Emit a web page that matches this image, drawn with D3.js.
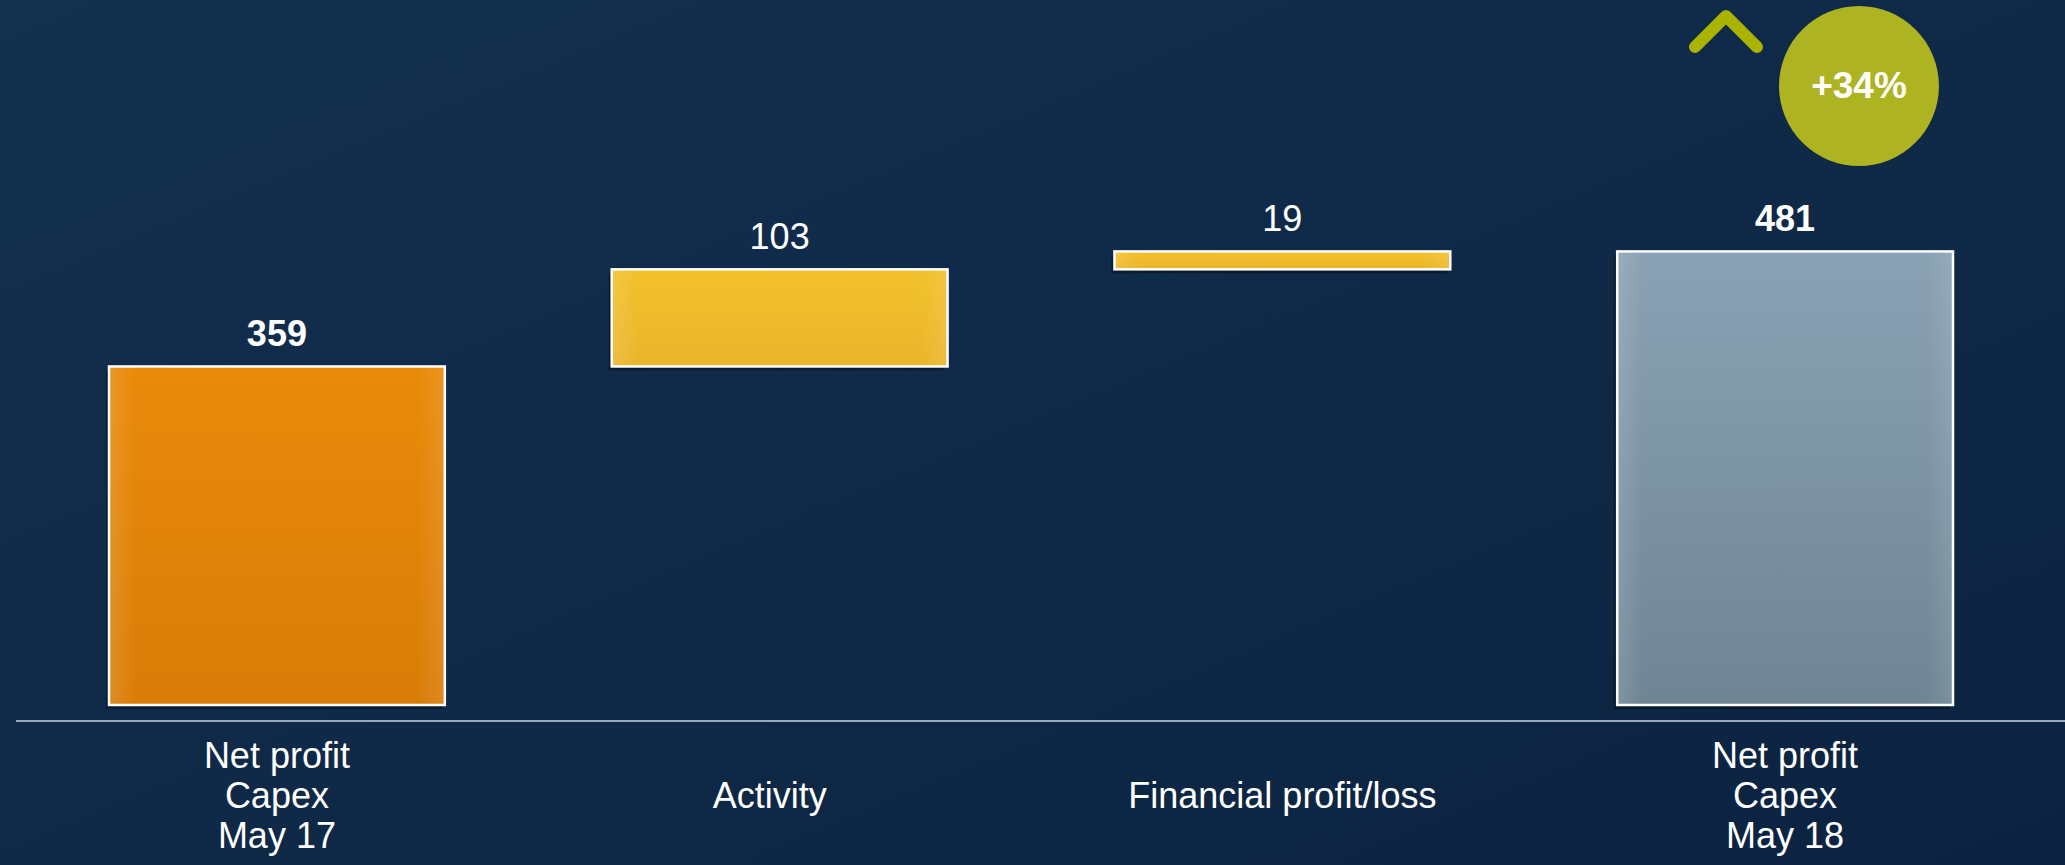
<!DOCTYPE html>
<html>
<head>
<meta charset="utf-8">
<script src="https://cdn.jsdelivr.net/npm/d3@7"></script>
<style>
  html, body { margin: 0; padding: 0; background: #0f2a4a; }
  svg { display: block; }
</style>
</head>
<body>
<div id="chart"></div>
<script>
// waterfall: net profit capex May 17 -> May 18
const categories = [['Net profit', 'Capex', 'May 17'], ['Activity'], ['Financial profit/loss'], ['Net profit', 'Capex', 'May 18']];
const values = [359, 103, 19, 481];
const kinds = ['total', 'delta', 'delta', 'total'];
const boldLabel = [true, false, false, true];
const growthLabel = '+34%';

const W = 2065, H = 865;
const baseY = 705;

const svg = d3.select('#chart').append('svg').attr('width', W).attr('height', H);
const defs = svg.append('defs');

const bg = defs.append('linearGradient').attr('id', 'bg').attr('x1', 0).attr('y1', 0).attr('x2', 1).attr('y2', 1);
bg.append('stop').attr('offset', '0%').attr('stop-color', '#13304f');
bg.append('stop').attr('offset', '100%').attr('stop-color', '#0b2340');
svg.append('rect').attr('width', W).attr('height', H).attr('fill', 'url(#bg)');

const grad = (id, c0, c1) => {
  const g = defs.append('linearGradient').attr('id', id).attr('x1', 0).attr('y1', 0).attr('x2', 0).attr('y2', 1);
  g.append('stop').attr('offset', '0%').attr('stop-color', c0);
  g.append('stop').attr('offset', '100%').attr('stop-color', c1);
};
grad('g-orange', '#e98a0a', '#d97d08');
grad('g-yellow', '#f2c12a', '#ebb52c');
grad('g-grey', '#8aa2b4', '#6f8594');
// soft lighter edges
const edge = defs.append('linearGradient').attr('id', 'edge').attr('x1', 0).attr('x2', 1);
edge.append('stop').attr('offset', '0%').attr('stop-color', '#fff').attr('stop-opacity', .12);
edge.append('stop').attr('offset', '8%').attr('stop-color', '#fff').attr('stop-opacity', 0);
edge.append('stop').attr('offset', '92%').attr('stop-color', '#fff').attr('stop-opacity', 0);
edge.append('stop').attr('offset', '100%').attr('stop-color', '#fff').attr('stop-opacity', .1);

const fills = { total0: 'url(#g-orange)', delta: 'url(#g-yellow)', total3: 'url(#g-grey)' };

// cumulative bars
let run = 0;
const bars = values.map((v, i) => {
  let y0, y1;
  if (kinds[i] === 'total') { y0 = 0; y1 = v; run = v; }
  else { y0 = run; y1 = run + v; run += v; }
  return { i, v, y0, y1, kind: kinds[i], lines: categories[i] };
});

const x = d3.scaleBand().domain(d3.range(values.length)).range([109, 1953]).paddingInner(0.332).paddingOuter(0);
const y = d3.scaleLinear().domain([0, 500]).range([baseY, baseY - 500 * 0.943]);
const bw = x.bandwidth();

const fillFor = d => d.kind === 'delta' ? fills.delta : (d.i === 0 ? fills.total0 : fills.total3);

const g = svg.append('g');

// shadow
g.selectAll('rect.sh').data(bars).enter().append('rect')
  .attr('x', d => x(d.i) - 3).attr('y', d => y(d.y1) + 4)
  .attr('width', bw).attr('height', d => y(d.y0) - y(d.y1))
  .attr('fill', '#000').attr('opacity', .35);

g.selectAll('rect.bar').data(bars).enter().append('rect')
  .attr('x', d => x(d.i)).attr('y', d => y(d.y1))
  .attr('width', bw).attr('height', d => y(d.y0) - y(d.y1))
  .attr('fill', fillFor);

g.selectAll('rect.edge').data(bars).enter().append('rect')
  .attr('x', d => x(d.i)).attr('y', d => y(d.y1))
  .attr('width', bw).attr('height', d => y(d.y0) - y(d.y1))
  .attr('fill', 'url(#edge)')
  .attr('stroke', '#fff').attr('stroke-width', 2.5);

// value labels
g.selectAll('text.val').data(bars).enter().append('text')
  .attr('x', d => x(d.i) + bw / 2).attr('y', d => y(d.y1) - 20)
  .attr('text-anchor', 'middle')
  .attr('font-family', 'Liberation Sans, Arial, sans-serif')
  .attr('font-size', 36)
  .attr('font-weight', d => boldLabel[d.i] ? 700 : 400)
  .attr('fill', '#fff')
  .text(d => d.v);

// baseline
svg.append('line').attr('x1', 16).attr('x2', W).attr('y1', 721).attr('y2', 721)
  .attr('stroke', '#9aaabb').attr('stroke-width', 2);

// category labels
const cat = svg.append('g').selectAll('text.cat').data(bars).enter().append('text')
  .attr('text-anchor', 'middle')
  .attr('font-family', 'Liberation Sans, Arial, sans-serif')
  .attr('font-size', 36)
  .attr('fill', '#fff');
cat.each(function (d) {
  const n = d.lines.length;
  const start = 808 - (n - 1) / 2 * 40;
  d.lines.forEach((t, k) => {
    d3.select(this).append('tspan')
      .attr('x', x(d.i) + bw / 2 - (n === 1 && d.i === 1 ? 10 : 0)).attr('y', start + k * 40).text(t);
  });
});

// growth badge
const last = values.length - 1;
const cx = x(last) + bw * 0.72, cy = 86;
svg.append('circle').attr('cx', cx).attr('cy', cy).attr('r', 80).attr('fill', '#adb321');
svg.append('text').attr('x', cx).attr('y', cy + 12)
  .attr('text-anchor', 'middle')
  .attr('font-family', 'Liberation Sans, Arial, sans-serif')
  .attr('font-size', 37).attr('font-weight', 700).attr('fill', '#fff')
  .text(growthLabel);

const ax = x(last) + bw * 0.324;
svg.append('path')
  .attr('d', `M${ax - 31},47 L${ax},16 L${ax + 31},47`)
  .attr('fill', 'none').attr('stroke', '#a9b300').attr('stroke-width', 12)
  .attr('stroke-linecap', 'round').attr('stroke-linejoin', 'round');
</script>
</body>
</html>
